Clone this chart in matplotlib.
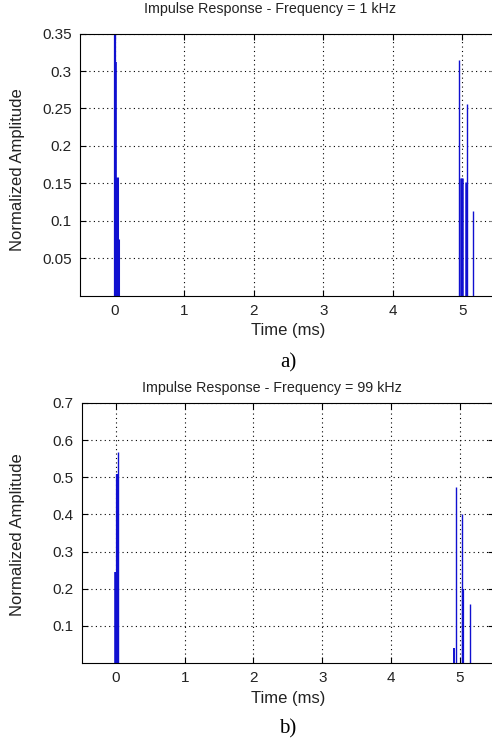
import matplotlib
matplotlib.use("Agg")
import matplotlib.pyplot as plt

# Data: impulse response stems (time in ms, normalized amplitude)
t_a = [0.00, 0.02, 0.03, 0.04, 4.96, 4.98, 4.99, 5.05, 5.07, 5.16]
amp_a = [0.36, 0.312, 0.159, 0.075, 0.315, 0.157, 0.157, 0.152, 0.256, 0.113]
lw_a = [1.6, 1.2, 2.2, 2.2, 1.0, 1.8, 1.8, 1.8, 1.0, 1.0]

t_b = [0.00, 0.01, 0.03, 4.92, 4.95, 5.035, 5.05, 5.145]
amp_b = [0.244, 0.509, 0.569, 0.04, 0.475, 0.402, 0.198, 0.16]
lw_b = [2.6, 1.6, 1.0, 1.4, 1.0, 1.0, 1.6, 1.0]

xticks = [0, 1, 2, 3, 4, 5]
yticks_a = [0.05, 0.10, 0.15, 0.20, 0.25, 0.30, 0.35]
ytl_a = ["0.05", "0.1", "0.15", "0.2", "0.25", "0.3", "0.35"]
yticks_b = [0.1, 0.2, 0.3, 0.4, 0.5, 0.6, 0.7]
ytl_b = ["0.1", "0.2", "0.3", "0.4", "0.5", "0.6", "0.7"]

plt.rcParams['font.family'] = ['Liberation Sans', 'DejaVu Sans']

W, H = 492, 742
fig = plt.figure(figsize=(W / 100, H / 100), dpi=100)
TXT = '#222222'

def px_axes(l, t, r, b):
    return fig.add_axes([l / W, 1 - b / H, (r - l) / W, (b - t) / H])

def style(ax, ylim, yt, ytl):
    ax.set_xlim(-0.5, 5.5)
    ax.set_ylim(*ylim)
    ax.set_xticks(xticks)
    ax.set_xticklabels([str(x) for x in xticks], fontsize=11, color=TXT)
    ax.set_yticks(yt)
    ax.set_yticklabels(ytl, fontsize=11, color=TXT)
    ax.grid(True, linestyle=(0, (1, 3)), color='black', linewidth=0.8)
    ax.tick_params(direction='in', length=4, width=0.8, top=True, right=True, pad=6)
    for s in ax.spines.values():
        s.set_linewidth(0.8)
    ax.set_axisbelow(True)

ax1 = px_axes(80, 33.6, 497, 295.6)
ax1.vlines(t_a, 0, amp_a, colors='#1010d0', linewidths=lw_a)
style(ax1, (0, 0.35), yticks_a, ytl_a)

ax2 = px_axes(81.7, 403, 494, 663)
ax2.vlines(t_b, 0, amp_b, colors='#1010d0', linewidths=lw_b)
style(ax2, (0, 0.7), yticks_b, ytl_b)

# Titles, labels and captions
fig.text(270 / W, 1 - 9.5 / H, "Impulse Response - Frequency = 1 kHz", ha='center', va='center', fontsize=10.3, color=TXT)
fig.text(288 / W, 1 - 330 / H, "Time (ms)", ha='center', va='center', fontsize=12, color=TXT)
fig.text(18 / W, 1 - 170 / H, "Normalized Amplitude", ha='center', va='center', rotation=90, fontsize=12, color=TXT)
fig.text(288 / W, 1 - 363 / H, "a)", ha='center', va='center', fontsize=15, family='Liberation Serif')

fig.text(272 / W, 1 - 388 / H, "Impulse Response - Frequency = 99 kHz", ha='center', va='center', fontsize=10.3, color=TXT)
fig.text(288 / W, 1 - 699 / H, "Time (ms)", ha='center', va='center', fontsize=12, color=TXT)
fig.text(18 / W, 1 - 535 / H, "Normalized Amplitude", ha='center', va='center', rotation=90, fontsize=12, color=TXT)
fig.text(288 / W, 1 - 729 / H, "b)", ha='center', va='center', fontsize=15, family='Liberation Serif')

fig.savefig("out.png", dpi=100)
